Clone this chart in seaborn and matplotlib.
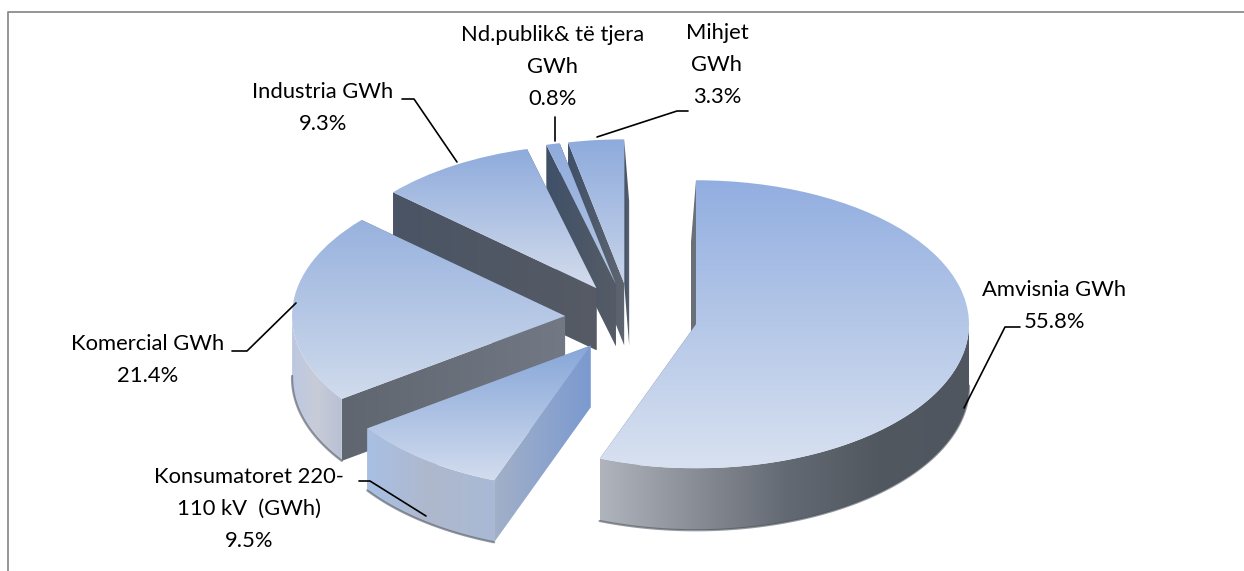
import numpy as np
import seaborn as sns
import matplotlib
matplotlib.use("Agg")
import matplotlib.pyplot as plt
from matplotlib.colors import LinearSegmentedColormap
from matplotlib.lines import Line2D
from matplotlib.patches import Polygon

# slices, clockwise from the top
names = ["Amvisnia GWh", "Konsumatoret 220-\n110 kV  (GWh)", "Komercial GWh",
         "Industria GWh", "Nd.publik& të tjera\nGWh", "Mihjet\nGWh"]
shares = [55.8, 9.5, 21.4, 9.3, 0.8, 3.3]
share_labels = ["55.8%", "9.5%", "21.4%", "9.3%", "0.8%", "3.3%"]

W, H = 1244, 571
CX, CY = 631, 318    # pie centre, pixels
RX, RY = 273, 144    # pixels per data unit
DEPTH = 62 / RY
EXPLODE = 0.242

# draw order (back to front) and colours per slice
order = [5, 4, 3, 2, 0, 1]
top_cols = {0: ("#92aee0", "#d8e1f0"), 1: ("#86a6d8", "#d2dcee"), 2: ("#98b2de", "#d0dbec"),
            3: ("#8eabdc", "#d4dcec"), 4: ("#8eabdc", "#b8c8e4"), 5: ("#8eabdc", "#c8d4ea")}
arc_cols = {0: ("#b0b4bc", "#8a8e96", "#646a74", "#52585f", "#50565f"),
            1: ("#a8c0e4", "#aeb8cc", "#a9bad6"), 2: ("#bcc8e0", "#c8ccd8", "#b8c0d4"),
            3: ("#606a78", "#606a78"), 4: ("#606a78", "#606a78"), 5: ("#606a78", "#606a78")}
wall_cols = {0: ("#6a7078", "#6a7078"), 1: ("#a2b0c8", "#7b9ad0"), 2: ("#5f6670", "#727984"),
             3: ("#4a5464", "#565b65"), 4: ("#3f5068", "#565c66"), 5: ("#3f5068", "#606670")}

# label text centre (pixels)
label_pos = {0: (1054, 306), 1: (249, 509), 2: (148, 360),
             3: (323, 108), 4: (553, 67), 5: (717, 65)}
leaders = {0: [(1020, 327), (1005, 327), (964, 408)],
           1: [(359, 481), (370, 481), (426, 516)],
           2: [(232, 351), (247, 351), (296, 303)],
           3: [(402, 99), (414, 99), (457, 162)],
           4: [(555, 117), (555, 141)],
           5: [(688, 111), (677, 111), (597, 137)]}


def gradient_fill(ax, patch, colors, z, horizontal=False):
    """Fill a patch with a linear gradient over its own extent."""
    cmap = LinearSegmentedColormap.from_list("g", colors)
    box = patch.get_path().transformed(patch.get_patch_transform()).get_extents()
    ramp = np.linspace(0, 1, 256)
    ramp = ramp.reshape(1, -1) if horizontal else ramp.reshape(-1, 1)
    im = ax.imshow(ramp, cmap=cmap, aspect="auto", origin="upper", zorder=z,
                   extent=(box.x0, box.x1, box.y0, box.y1), interpolation="bilinear")
    im.set_clip_path(patch)
    return im


def edge_point(w, deg):
    rad = np.deg2rad(deg)
    return w.center[0] + w.r * np.cos(rad), w.center[1] + w.r * np.sin(rad)


def draw_walls(ax, w, i, z):
    # straight cut faces
    for deg in (w.theta1, w.theta2):
        ex, ey = edge_point(w, deg)
        # the faces on the vertical cut only peek out by a few pixels
        shift = 0.0
        if abs((deg % 360) - 90) < 0.01:
            shift = -np.sign(w.center[0]) * 5 / RX
        pts = [w.center, (ex, ey), (ex + shift, ey - DEPTH),
               (w.center[0] + shift, w.center[1] - DEPTH)]
        face = Polygon(pts, closed=True, fc="none", ec="none", zorder=z)
        ax.add_patch(face)
        gradient_fill(ax, face, wall_cols[i], z, horizontal=True)
    # outer rim, only the part that faces the viewer
    t = np.linspace(w.theta1, w.theta2, 200)
    t = t[np.sin(np.deg2rad(t)) <= 0.02]
    if len(t) < 2:
        return
    xs = w.center[0] + w.r * np.cos(np.deg2rad(t))
    ys = w.center[1] + w.r * np.sin(np.deg2rad(t))
    pts = np.r_[np.c_[xs, ys], np.c_[xs, ys - DEPTH][::-1]]
    rim = Polygon(pts, closed=True, fc="none", ec="none", zorder=z)
    ax.add_patch(rim)
    gradient_fill(ax, rim, arc_cols[i], z + 0.1, horizontal=True)
    ax.plot(xs, ys - DEPTH, color="#50565f", lw=1.6, alpha=0.6, zorder=z + 0.2,
            solid_capstyle="round")


def main():
    sns.set_theme(style="white")
    plt.rcParams["font.family"] = ["Lato", "DejaVu Sans"]

    fig = plt.figure(figsize=(W / 100, H / 100), dpi=100)
    ax = fig.add_axes([0, 0, 1, 1])
    wedges, _ = ax.pie(shares, startangle=90, counterclock=False, explode=[EXPLODE] * len(shares),
                       radius=1, wedgeprops={"linewidth": 0})
    ax.set_aspect("auto")

    for z, i in enumerate(order):
        w = wedges[i]
        w.set_facecolor("none")
        draw_walls(ax, w, i, 2 * z + 2)
        gradient_fill(ax, w, top_cols[i], 2 * z + 2.5)

    ax.set_xlim(-CX / RX, (W - CX) / RX)
    ax.set_ylim(-(H - CY) / RY, CY / RY)
    ax.axis("off")

    def fx(x):
        return x / W

    def fy(y):
        return 1 - y / H

    # chart frame, open at the bottom and right
    fig.add_artist(Line2D([fx(8), fx(8), 1], [0, fy(12), fy(12)], color="#8c8c8c", lw=1.3))

    for i in range(len(names)):
        x, y = label_pos[i]
        fig.text(fx(x), fy(y), names[i] + "\n" + share_labels[i], ha="center", va="center",
                 fontsize=15.8, color="black", linespacing=1.72)
        pts = leaders[i]
        fig.add_artist(Line2D([fx(p[0]) for p in pts], [fy(p[1]) for p in pts], color="black", lw=1.2))

    fig.savefig("out.png", dpi=100)
    plt.close()


if __name__ == '__main__':
    main()
